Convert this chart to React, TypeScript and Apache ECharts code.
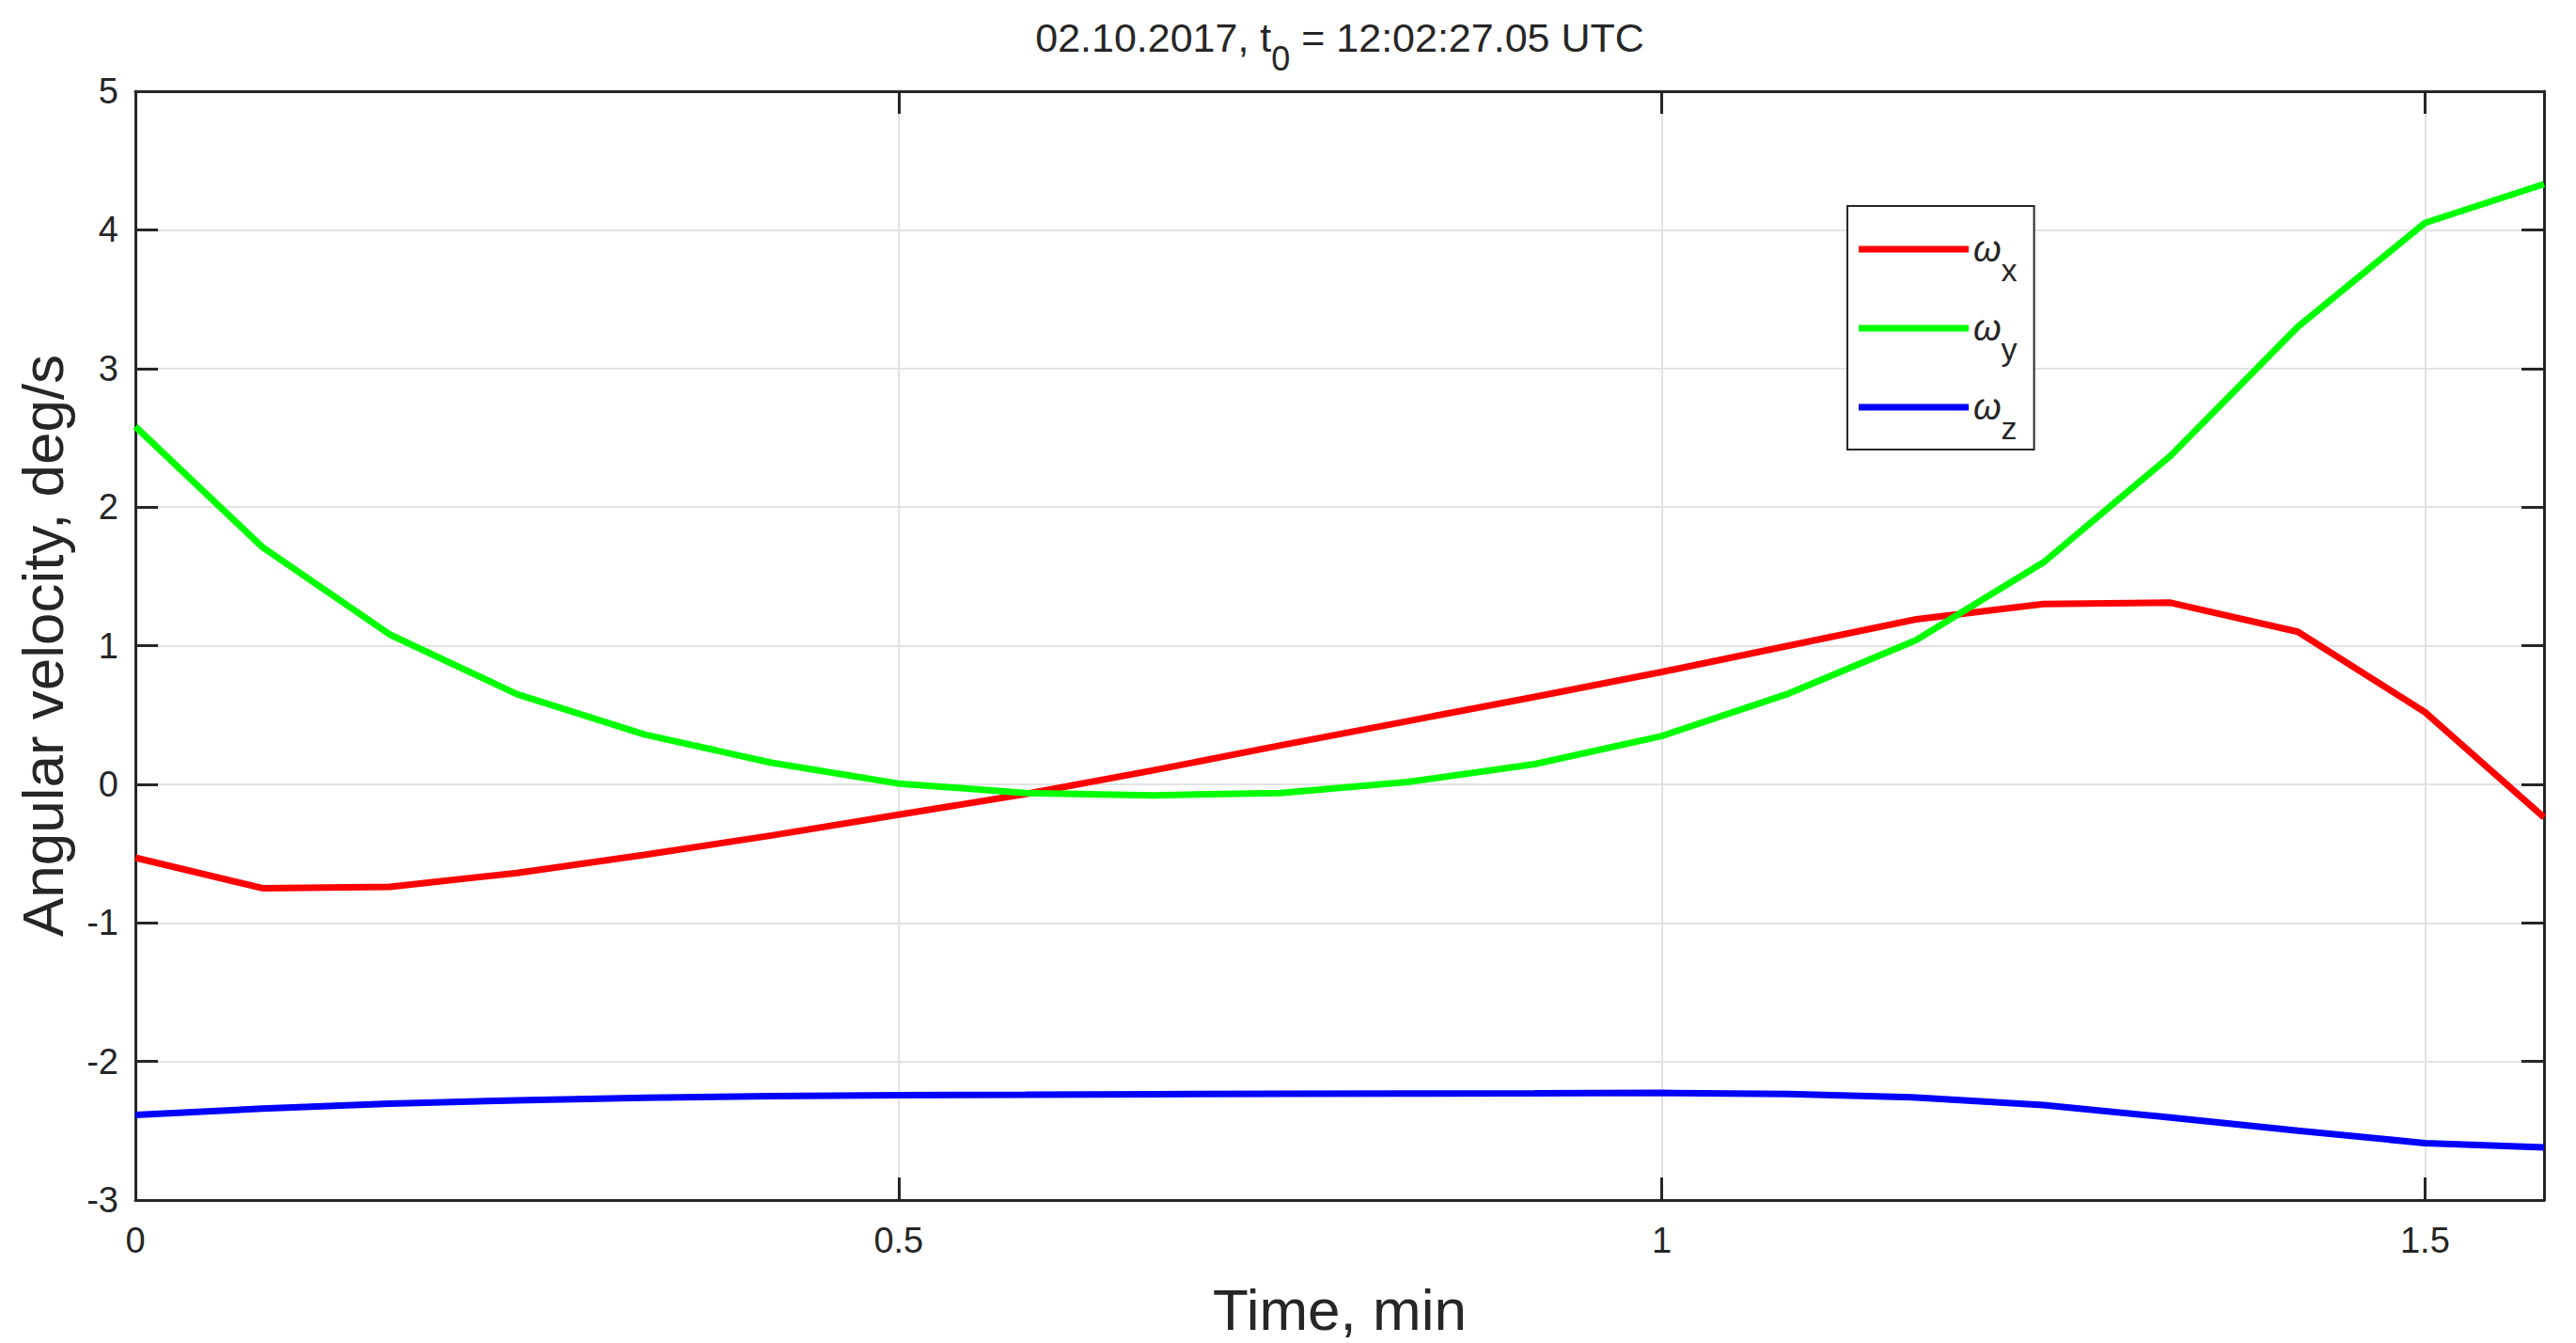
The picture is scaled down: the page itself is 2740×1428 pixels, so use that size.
import React, { useEffect, useRef } from "react";
import * as echarts from "echarts";

// time, minutes (sampled every ~5 s)
const timeMin = [
  0, 0.0833, 0.1667, 0.25, 0.3333, 0.4167, 0.5, 0.5833, 0.6667, 0.75,
  0.8333, 0.9167, 1.0, 1.0833, 1.1667, 1.25, 1.3333, 1.4167, 1.5, 1.578,
];
// angular velocity components, deg/s
const omegaX = [
  -0.53, -0.75, -0.74, -0.64, -0.51, -0.37, -0.22, -0.07, 0.1, 0.28,
  0.455, 0.63, 0.81, 1.0, 1.19, 1.3, 1.31, 1.1, 0.52, -0.24,
];
const omegaY = [
  2.58, 1.71, 1.08, 0.65, 0.36, 0.155, 0.005, -0.063, -0.08, -0.063,
  0.016, 0.145, 0.348, 0.655, 1.04, 1.6, 2.37, 3.3, 4.05, 4.33,
];
const omegaZ = [
  -2.386, -2.34, -2.305, -2.28, -2.262, -2.25, -2.243, -2.24, -2.236, -2.234,
  -2.232, -2.23, -2.227, -2.235, -2.26, -2.315, -2.405, -2.5, -2.589, -2.62,
];

const seriesNames = ["ωx", "ωy", "ωz"];
const seriesColors = ["#ff0000", "#00ff00", "#0000ff"];
const seriesValues = [omegaX, omegaY, omegaZ];

const xMin = 0;
const xMax = 1.578;
const xInterval = 0.5;
const yMin = -3;
const yMax = 5;
const yInterval = 1;

const titleText = "{a|02.10.2017, t}{s|0}{a| = 12:02:27.05 UTC}";
const xName = "Time, min";
const yName = "Angular velocity, deg/s";

const FONT = "'Liberation Sans', Arial, Helvetica, sans-serif";
const AX = "#262626";

export default function App() {
  const ref = useRef<HTMLDivElement>(null);

  useEffect(() => {
    if (!ref.current) return;
    const chart = echarts.init(ref.current, undefined, { renderer: "svg" });

    const axisLine = { show: true, onZero: false, lineStyle: { color: AX, width: 3 } };
    const axisTick = { show: true, inside: true, length: 24, lineStyle: { color: AX, width: 3 } };

    chart.setOption({
      animation: false,
      backgroundColor: "#ffffff",
      textStyle: { fontFamily: FONT },
      title: {
        text: titleText,
        left: 1425,
        top: 19,
        padding: 0,
        textAlign: "center",
        textStyle: {
          fontWeight: "normal",
          fontFamily: FONT,
          rich: {
            a: {
              fontFamily: FONT, fontSize: 43, fontWeight: "normal", lineHeight: 42,
              color: AX, verticalAlign: "middle",
            },
            s: {
              fontFamily: FONT, fontSize: 36, fontWeight: "normal", lineHeight: 10,
              color: AX, verticalAlign: "top", padding: [25, 0, 0, 0],
            },
          },
        },
      },
      legend: {
        orient: "vertical",
        left: 1965,
        top: 219,
        padding: [27, 18, 6, 12],
        itemGap: 26,
        itemWidth: 117,
        itemHeight: 7,
        icon: "rect",
        borderColor: AX,
        borderWidth: 2,
        backgroundColor: "#ffffff",
        data: seriesNames,
        formatter: (name: string) => `{w|ω}{s|${name.slice(1)}}`,
        textStyle: {
          rich: {
            w: {
              fontFamily: FONT, fontSize: 38, fontStyle: "italic",
              color: AX, verticalAlign: "top", padding: [20, 0, 20, 0],
            },
            s: {
              fontFamily: FONT, fontSize: 34, color: AX,
              verticalAlign: "top", padding: [44, 0, 0, 0],
            },
          },
        },
      },
      grid: { left: 144, right: 34, top: 97, bottom: 149, containLabel: false },
      xAxis: [
        {
          type: "value",
          position: "bottom",
          min: xMin,
          max: xMax,
          interval: xInterval,
          axisLine,
          axisTick,
          axisLabel: {
            show: true,
            margin: 24,
            fontSize: 38,
            fontFamily: FONT,
            color: AX,
            showMaxLabel: false,
            formatter: (v: number) =>
              Math.abs(v / xInterval - Math.round(v / xInterval)) < 1e-6 ? String(v) : "",
          },
          splitLine: { show: true, lineStyle: { color: "#e2e2e2", width: 2 } },
          name: xName,
          nameLocation: "middle",
          nameGap: 85,
          nameTextStyle: { fontSize: 62, fontFamily: FONT, color: AX },
        },
        {
          type: "value",
          position: "top",
          min: xMin,
          max: xMax,
          interval: xInterval,
          axisLine,
          axisTick,
          axisLabel: { show: false },
          splitLine: { show: false },
        },
      ],
      yAxis: [
        {
          type: "value",
          position: "left",
          min: yMin,
          max: yMax,
          interval: yInterval,
          axisLine,
          axisTick,
          axisLabel: { show: true, margin: 18, fontSize: 38, fontFamily: FONT, color: AX },
          splitLine: { show: true, lineStyle: { color: "#e2e2e2", width: 2 } },
          name: yName,
          nameLocation: "middle",
          nameGap: 68,
          nameTextStyle: { fontSize: 62, fontFamily: FONT, color: AX },
        },
        {
          type: "value",
          position: "right",
          min: yMin,
          max: yMax,
          interval: yInterval,
          axisLine,
          axisTick,
          axisLabel: { show: false },
          splitLine: { show: false },
        },
      ],
      series: seriesNames.map((name, i) => ({
        name,
        type: "line",
        xAxisIndex: 0,
        yAxisIndex: 0,
        showSymbol: false,
        symbol: "none",
        smooth: false,
        color: seriesColors[i],
        lineStyle: { color: seriesColors[i], width: 7 },
        data: timeMin.map((t, k) => [t, seriesValues[i][k]]),
      })),
    });

    return () => chart.dispose();
  }, []);

  return (
    <div
      ref={ref}
      style={{ position: "absolute", left: 0, top: 0, width: 2740, height: 1428, background: "#fff" }}
    />
  );
}
